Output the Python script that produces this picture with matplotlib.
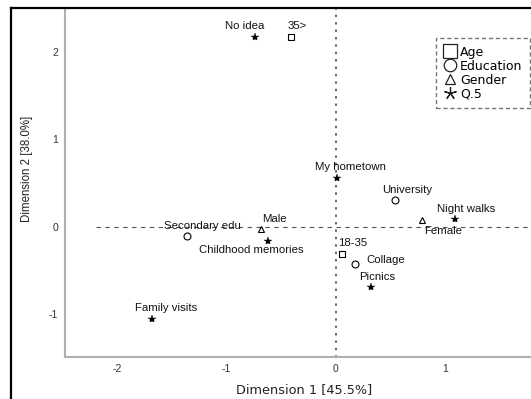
import matplotlib
matplotlib.use("Agg")
import matplotlib.pyplot as plt
from matplotlib.lines import Line2D

plt.rcParams["axes.unicode_minus"] = False

# ---- data ----
names = ["No idea", "35>", "My hometown", "University", "Night walks", "Female",
         "Male", "Secondary edu", "Childhood memories", "18-35", "Collage",
         "Picnics", "Family visits"]
groups = ["Q.5", "Age", "Q.5", "Education", "Q.5", "Gender",
          "Gender", "Education", "Q.5", "Age", "Education",
          "Q.5", "Q.5"]
dim1 = [-0.74, -0.41, 0.01, 0.54, 1.09, 0.79, -0.68, -1.36, -0.62, 0.06, 0.18, 0.32, -1.68]
dim2 = [2.17, 2.17, 0.56, 0.31, 0.09, 0.08, -0.03, -0.11, -0.16, -0.31, -0.43, -0.69, -1.05]
legend_groups = ["Age", "Education", "Gender", "Q.5"]
xticks = [-2, -1, 0, 1]
yticks = [-1, 0, 1, 2]

# ---- styles ----
marker_of = {"Age": "s", "Education": "o", "Gender": "^", "Q.5": "*"}
legend_marker = {"Age": "s", "Education": "o", "Gender": "^", "Q.5": (5, 2, 0)}
legend_ms = {"Age": 9.5, "Education": 9, "Gender": 7.5, "Q.5": 9}
label_offset = {  # pixels (dx, dy up)
    "No idea": (-10, 11), "35>": (6, 11), "My hometown": (14, 11),
    "University": (13, 10), "Night walks": (12, 10), "Female": (21, -11),
    "Male": (13, 10), "Secondary edu": (15, 10), "Childhood memories": (-17, -9),
    "18-35": (10, 11), "Collage": (30, 4), "Picnics": (7, 10),
    "Family visits": (14, 11),
}

fig = plt.figure(figsize=(5.31, 3.99), dpi=100)
ax = fig.add_axes([65 / 531, 42 / 399, 466 / 531, 349 / 399])
ax.set_xlim(-2.48, 1.79)
ax.set_ylim(-1.49, 2.5)

ax.plot([-2.2, 1.79], [0, 0], color="#555555", lw=0.8, ls=(0, (4, 4)), zorder=1)
ax.plot([0, 0], [-1.49, 2.5], color="#555555", lw=1.3, ls=(0, (0.6, 3.5)),
        dash_capstyle="round", zorder=1)

for n, g, x, y in zip(names, groups, dim1, dim2):
    m = marker_of[g]
    if m == "*":
        ax.plot(x, y, marker="*", ms=6, color="black", mew=0.3, ls="none", zorder=3)
    else:
        ax.plot(x, y, marker=m, ms=5, mfc="white", mec="black", mew=0.8,
                ls="none", zorder=3)
    dx, dy = label_offset[n]
    ax.annotate(n, (x, y), xytext=(dx, dy), textcoords="offset pixels",
                ha="center", va="center", fontsize=8.2, family="Liberation Sans",
                color="#111111", zorder=4)

ax.set_xticks(xticks)
ax.set_yticks(yticks)
ax.tick_params(length=0, labelsize=7.5, colors="#333333")
ax.tick_params(axis="x", pad=5)
ax.tick_params(axis="y", pad=5)
for lab in ax.get_xticklabels() + ax.get_yticklabels():
    lab.set_family("Liberation Sans")
for s in ["top", "right"]:
    ax.spines[s].set_visible(False)
for s in ["left", "bottom"]:
    ax.spines[s].set_color("#b0b0b0")
    ax.spines[s].set_linewidth(1.5)

fig.text(304 / 531, 1 - 390 / 399, "Dimension 1 [45.5%]", ha="center", va="center",
         fontsize=9.3, family="DejaVu Sans", color="#222222")
fig.text(27 / 531, 1 - 169 / 399, "Dimension 2 [38.0%]", ha="center", va="center",
         rotation=90, fontsize=8.3, family="Liberation Sans", color="#222222")

handles = []
for g in legend_groups:
    handles.append(Line2D([], [], marker=legend_marker[g], ls="none", ms=legend_ms[g],
                          mfc="none", mec="#222222", mew=0.9, label=g))
leg = ax.legend(handles=handles, loc="upper right", bbox_to_anchor=(0.998, 0.913),
                frameon=True, fancybox=False, handlelength=1.1,
                handletextpad=0.25, labelspacing=0.08, borderpad=0.6,
                borderaxespad=0, prop={"family": "DejaVu Sans", "size": 9})
fr = leg.get_frame()
fr.set_linestyle((0, (3, 2)))
fr.set_edgecolor("#555555")
fr.set_linewidth(1.0)

# outer frame lines (left and top)
fig.add_artist(Line2D([11 / 531, 11 / 531], [0, 1 - 8 / 399], color="black", lw=1.6,
                      transform=fig.transFigure))
fig.add_artist(Line2D([11 / 531, 1], [1 - 8 / 399, 1 - 8 / 399], color="black", lw=1.6,
                      transform=fig.transFigure))

fig.savefig("out.png", dpi=100)
